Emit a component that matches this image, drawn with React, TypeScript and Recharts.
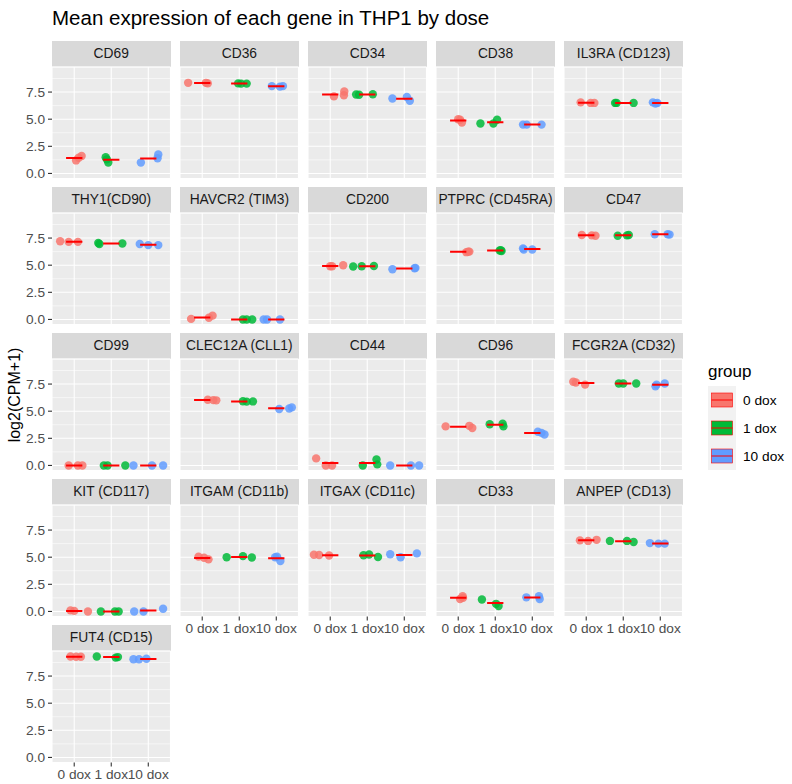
import React from 'react';
import { ScatterChart, Scatter, XAxis, YAxis, CartesianGrid } from 'recharts';

const genes = [
  'CD69', 'CD36', 'CD34', 'CD38', 'IL3RA (CD123)',
  'THY1(CD90)', 'HAVCR2 (TIM3)', 'CD200', 'PTPRC (CD45RA)', 'CD47',
  'CD99', 'CLEC12A (CLL1)', 'CD44', 'CD96', 'FCGR2A (CD32)',
  'KIT (CD117)', 'ITGAM (CD11b)', 'ITGAX (CD11c)', 'CD33', 'ANPEP (CD13)',
  'FUT4 (CD15)',
];
const doseLabels = ['0 dox', '1 dox', '10 dox'];
const groupColors = ['#F8766D', '#00BA38', '#619CFF'];
const yTicks = [0, 2.5, 5, 7.5];
const yMinorTicks = [1.25, 3.75, 6.25, 8.75];
const xTicks = [1, 2, 3];

// each entry: [jittered x (dose position), log2(CPM+1)]
const dose0: [number, number][][] = [
  [[1.05, 1.2], [1.12, 1.45], [1.2, 1.6]],
  [[0.62, 8.35], [1.1, 8.35], [1.15, 8.3]],
  [[1.1, 7.1], [1.37, 7.2], [1.38, 7.55]],
  [[1.0, 5.0], [1.05, 4.95], [1.1, 4.7]],
  [[0.85, 6.55], [1.12, 6.5], [1.22, 6.5]],
  [[0.62, 7.2], [0.85, 7.15], [1.1, 7.15]],
  [[0.7, 0.05], [1.18, 0.15], [1.28, 0.35]],
  [[1.0, 4.9], [1.05, 4.9], [1.35, 5.0]],
  [[1.22, 6.2], [1.27, 6.25], [1.3, 6.25]],
  [[0.88, 7.78], [1.15, 7.75], [1.25, 7.72]],
  [[0.85, 0], [1.1, 0], [1.22, 0]],
  [[1.15, 6.05], [1.3, 6.02], [1.38, 6.0]],
  [[0.62, 0.65], [0.88, 0.0], [1.05, 0.0]],
  [[0.66, 3.6], [1.3, 3.65], [1.38, 3.45]],
  [[0.65, 7.72], [0.72, 7.65], [0.97, 7.45]],
  [[0.9, 0.1], [1.0, 0.05], [1.37, 0.0]],
  [[0.9, 5.05], [1.05, 4.95], [1.17, 4.8]],
  [[0.56, 5.22], [0.7, 5.2], [0.97, 5.15]],
  [[1.05, 1.15], [1.12, 1.4], [1.13, 1.25]],
  [[0.83, 6.55], [1.05, 6.5], [1.28, 6.6]],
  [[0.9, 9.3], [1.05, 9.28], [1.18, 9.28]],
];
const dose1: [number, number][][] = [
  [[1.85, 1.5], [1.88, 1.3], [1.92, 1.0]],
  [[1.97, 8.3], [2.05, 8.28], [2.2, 8.28]],
  [[1.7, 7.27], [1.78, 7.25], [2.15, 7.3]],
  [[1.6, 4.6], [1.95, 4.6], [2.05, 4.95]],
  [[1.78, 6.5], [1.82, 6.5], [2.28, 6.5]],
  [[1.65, 7.05], [1.68, 6.95], [2.3, 7.0]],
  [[2.1, 0.0], [2.2, 0.0], [2.35, 0.0]],
  [[1.62, 4.88], [1.85, 4.9], [2.18, 4.92]],
  [[2.12, 6.35], [2.15, 6.38], [2.17, 6.3]],
  [[1.85, 7.72], [2.1, 7.75], [2.15, 7.78]],
  [[1.8, 0], [1.9, 0], [2.38, 0]],
  [[2.1, 5.92], [2.2, 5.88], [2.37, 5.9]],
  [[1.88, 0.0], [2.25, 0.55], [2.27, 0.1]],
  [[1.85, 3.8], [2.2, 3.85], [2.22, 3.6]],
  [[1.88, 7.55], [2.0, 7.55], [2.35, 7.55]],
  [[1.72, 0], [2.1, 0], [2.2, 0]],
  [[1.66, 5.0], [2.1, 5.1], [2.34, 4.97]],
  [[1.9, 5.18], [2.05, 5.25], [2.29, 5.02]],
  [[1.64, 1.1], [2.02, 0.7], [2.09, 0.5]],
  [[1.64, 6.5], [2.1, 6.5], [2.28, 6.4]],
  [[1.61, 9.3], [2.12, 9.2], [2.18, 9.25]],
];
const dose10: [number, number][][] = [
  [[2.8, 1.0], [3.25, 1.4], [3.27, 1.75]],
  [[2.88, 8.05], [3.1, 8.0], [3.18, 8.05]],
  [[2.68, 6.9], [3.07, 7.05], [3.15, 6.7]],
  [[2.75, 4.5], [2.85, 4.5], [3.25, 4.5]],
  [[2.8, 6.55], [2.87, 6.45], [2.92, 6.5]],
  [[2.77, 6.95], [3.0, 6.85], [3.27, 6.85]],
  [[2.66, 0.0], [2.75, 0.0], [3.1, 0.0]],
  [[2.68, 4.62], [3.28, 4.72], [3.3, 4.75]],
  [[2.75, 6.55], [2.77, 6.45], [3.0, 6.45]],
  [[2.85, 7.85], [3.2, 7.85], [3.25, 7.82]],
  [[2.6, 0], [3.1, 0], [3.4, 0]],
  [[3.08, 5.2], [3.35, 5.25], [3.42, 5.35]],
  [[2.62, 0], [3.18, 0], [3.4, 0]],
  [[3.15, 3.1], [3.25, 3.0], [3.33, 2.85]],
  [[2.87, 7.3], [2.9, 7.45], [3.12, 7.55]],
  [[2.62, 0], [2.87, 0], [3.4, 0.25]],
  [[2.97, 5.0], [3.02, 5.05], [3.11, 4.65]],
  [[2.62, 5.27], [2.9, 5.0], [3.34, 5.35]],
  [[2.84, 1.3], [3.18, 1.4], [3.2, 1.15]],
  [[2.72, 6.3], [2.95, 6.25], [3.12, 6.25]],
  [[2.6, 9.05], [2.75, 9.05], [2.95, 9.1]],
];
const doseSeries = [dose0, dose1, dose10];

const Y_DOMAIN: [number, number] = [-0.467, 9.81];
const X_DOMAIN: [number, number] = [0.4, 3.6];
const CROSSBAR_HALF = 0.22;

// layout
const COL0 = 52;
const COL_STEP = 128.1;
const PANEL_W = 118.5;
const ROW0 = 41;
const ROW_STEP = 146;
const STRIP_H = 26;
const PANEL_H = 111.5;
const Y_AXIS_W = 52;
const X_AXIS_H = 32;
const PAD = 8;
const FONT = '"Liberation Sans", Arial, Helvetica, sans-serif';

const mean = (pts: [number, number][]) => pts.reduce((s, p) => s + p[1], 0) / pts.length;

function Panel({ idx }: { idx: number }) {
  const r = Math.floor(idx / 5);
  const c = idx % 5;
  const showY = c === 0;
  const showX = r === 4 || (r === 3 && c >= 1);
  const left = COL0 + c * COL_STEP - (showY ? Y_AXIS_W : 0);
  const top = ROW0 + r * ROW_STEP + STRIP_H;
  const w = PANEL_W + (showY ? Y_AXIS_W : 0);
  const h = PANEL_H + (showX ? X_AXIS_H : 0) + 2 * PAD;
  const stripLeft = COL0 + c * COL_STEP;
  return (
    <>
      <div
        style={{
          position: 'absolute',
          left: stripLeft,
          top: ROW0 + r * ROW_STEP,
          width: PANEL_W,
          height: STRIP_H,
          background: '#D9D9D9',
          color: '#1A1A1A',
          fontSize: 13.8,
          lineHeight: STRIP_H + 'px',
          textAlign: 'center',
          whiteSpace: 'nowrap',
          overflow: 'visible',
        }}
      >
        {genes[idx]}
      </div>
      <div style={{ position: 'absolute', left, top: top - PAD }}>
        <ScatterChart width={w} height={h} margin={{ top: PAD, right: 0, bottom: PAD, left: 0 }}>
          <CartesianGrid fill="#EBEBEB" stroke="#FFFFFF" strokeWidth={1.1} strokeDasharray="" />
          <CartesianGrid yAxisId="minor" vertical={false} stroke="#FFFFFF" strokeWidth={0.55} strokeDasharray="" />
          <XAxis
            type="number"
            dataKey="x"
            domain={X_DOMAIN}
            allowDataOverflow
            ticks={xTicks}
            interval={0}
            hide={!showX}
            height={X_AXIS_H}
            axisLine={false}
            tickSize={4}
            tickMargin={3}
            tickLine={{ stroke: '#333333', strokeWidth: 1.1 }}
            tick={{ fill: '#4D4D4D', fontSize: 13.7, fontFamily: FONT }}
            tickFormatter={(v: number) => doseLabels[v - 1]}
          />
          <YAxis
            type="number"
            dataKey="y"
            domain={Y_DOMAIN}
            allowDataOverflow
            ticks={yTicks}
            interval={0}
            hide={!showY}
            width={Y_AXIS_W}
            axisLine={false}
            tickSize={4}
            tickMargin={3}
            tickLine={{ stroke: '#333333', strokeWidth: 1.1 }}
            tick={{ fill: '#4D4D4D', fontSize: 13.7, fontFamily: FONT }}
            tickFormatter={(v: number) => v.toFixed(1)}
          />
          <YAxis yAxisId="minor" type="number" domain={Y_DOMAIN} allowDataOverflow ticks={yMinorTicks} hide />
          {doseSeries.map((series, g) => (
            <Scatter
              key={'pts' + g}
              data={series[idx].map(([x, y]) => ({ x, y }))}
              isAnimationActive={false}
              shape={(p: any) => (
                <circle cx={p.cx} cy={p.cy} r={4.2} fill={groupColors[g]} fillOpacity={0.85} />
              )}
            />
          ))}
          {doseSeries.map((series, g) => {
            const m = mean(series[idx]);
            return (
              <Scatter
                key={'mean' + g}
                data={[
                  { x: g + 1 - CROSSBAR_HALF, y: m },
                  { x: g + 1 + CROSSBAR_HALF, y: m },
                ]}
                isAnimationActive={false}
                line={{ stroke: '#FF0000', strokeWidth: 2 }}
                shape={() => <g />}
              />
            );
          })}
        </ScatterChart>
      </div>
    </>
  );
}

export default function App() {
  return (
    <div
      style={{
        position: 'absolute',
        left: 0,
        top: 0,
        width: 792,
        height: 784,
        background: '#FFFFFF',
        overflow: 'hidden',
        fontFamily: FONT,
      }}
    >
      {genes.map((_, i) => (
        <Panel key={i} idx={i} />
      ))}
      <svg
        width={792}
        height={784}
        style={{ position: 'absolute', left: 0, top: 0, pointerEvents: 'none' }}
        fontFamily={FONT}
      >
        <text x={52} y={25} fontSize={20.5} fill="#000000">
          Mean expression of each gene in THP1 by dose
        </text>
        <text
          transform="translate(20,395) rotate(-90)"
          textAnchor="middle"
          fontSize={16}
          fill="#000000"
        >
          log2(CPM+1)
        </text>
        <text x={708} y={377} fontSize={17} fill="#000000">
          group
        </text>
        {doseLabels.map((lab, g) => (
          <g key={lab}>
            <rect x={708} y={386 + 28 * g} width={28} height={28} fill="#F2F2F2" />
            <rect
              x={711.5}
              y={393 + 28 * g}
              width={21}
              height={14}
              fill={groupColors[g]}
              stroke="#FF0000"
              strokeWidth={0.6}
            />
            <line x1={711.5} x2={732.5} y1={400 + 28 * g} y2={400 + 28 * g} stroke="#FF0000" strokeWidth={1} />
            <text x={743} y={400 + 28 * g} dy="0.35em" fontSize={13.7} fill="#000000">
              {lab}
            </text>
          </g>
        ))}
      </svg>
    </div>
  );
}
